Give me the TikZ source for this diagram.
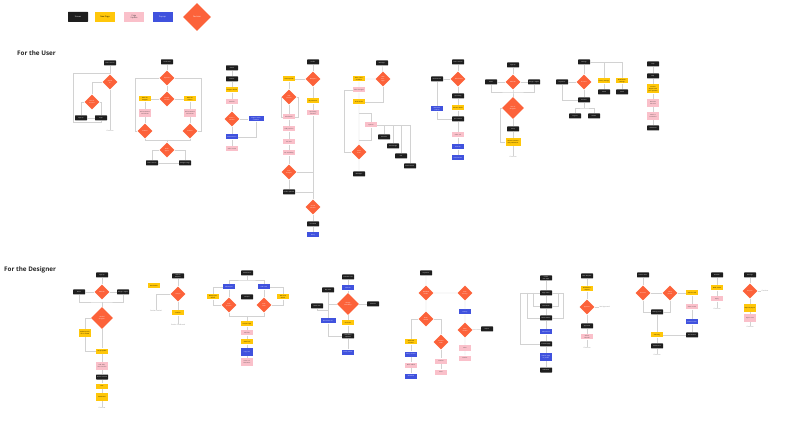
\documentclass[tikz,border=0pt]{standalone}
\usepackage{fontspec}
\setmainfont{Open Sans}
\usetikzlibrary{shapes.geometric}
\definecolor{scrc}{RGB}{30,30,30}
\definecolor{npc}{RGB}{255,199,10}
\definecolor{puc}{RGB}{250,192,202}
\definecolor{popc}{RGB}{64,82,222}
\definecolor{decc}{RGB}{252,98,58}
\definecolor{linec}{RGB}{210,210,210}
\begin{document}
\begin{tikzpicture}[x=1pt,y=-1pt,
 box/.style={rectangle, minimum width=12pt, minimum height=5pt, inner sep=0.4pt, font=\fontsize{1.4}{1.7}\selectfont, align=center, text width=10.5pt},
 scr/.style={box, fill=scrc, text=white, rounded corners=0.5pt},
 np/.style={box, fill=npc, text=black},
 pu/.style={box, fill=puc, text=black!75},
 pop/.style={box, fill=popc, text=white},
 tall/.style={minimum height=8pt},
 wide/.style={minimum width=15pt, text width=13.5pt},
 dec/.style={diamond, fill=decc, text=white, minimum width=15pt, minimum height=15pt, inner sep=0pt, font=\fontsize{1.4}{1.7}\selectfont, align=center, text width=6pt},
 bigdec/.style={dec, minimum width=22pt, minimum height=22pt, text width=9pt},
 txt/.style={font=\fontsize{1.6}{2}\selectfont, text=gray, inner sep=0.3pt},
 conn/.style={draw=linec, line width=0.45pt},
 head/.style={font=\bfseries\fontsize{6.3}{7}\selectfont, text=black!85, inner sep=0pt, anchor=west},
 lg/.style={minimum width=20pt, minimum height=10pt, inner sep=0.5pt, font=\fontsize{2}{2.4}\selectfont}
]
\useasboundingbox (0,0) rectangle (800,435);
\fill[white] (0,0) rectangle (800,435);

% ---------- legend ----------
\node[scr, lg] (lg1) at (78,17) {Screen};
\node[np, lg] (lg2) at (105,17) {New Page};
\node[pu, lg] (lg3) at (134,17) {Page Update};
\node[pop, lg] (lg4) at (162.5,17) {Pop-up};
\node[dec, minimum width=28pt, minimum height=28pt, font=\fontsize{2}{2.4}\selectfont, text width=12pt] (lg5) at (197,17) {Decision};

\node[head] (h1t) at (17,53) {For the User};
\node[head] (h2t) at (4,269.5) {For the Designer};

% ================= USER =================
% flow a
\node[scr] (a1) at (110,63) {Home Screen};
\node[dec] (a2) at (110,82) {Signed in?};
\node[dec] (a3) at (92,102) {Has an account?};
\node[scr] (a4) at (81,118) {Sign Up};
\node[scr] (a5) at (101,118) {Login};
\node[txt] (a6) at (110,131) {Continue};
\coordinate (a7) at (110,73);
\coordinate (a8) at (73,122);
\draw[conn] (a1) -- (a2) (a2.west) -| (a3.north) (a3.west) -| (a4.north) (a3.east) -| (a5.north) (a4) -- (a5) (a2) -- (a6);
\draw[conn] (a7) -| (a8) -| (a5.south);

% flow b
\node[scr] (b1) at (167,62) {Confirmed};
\node[dec] (b2) at (167,78) {Payment?};
\node[dec] (b3) at (167,99) {Review session?};
\node[np] (b4) at (145,99) {Rate the designer};
\node[np] (b5) at (190,99) {Rate the session};
\node[pu, tall] (b6) at (145,113) {Add comments and submit};
\node[pu, tall] (b7) at (190,113) {Add comments and submit};
\node[dec] (b8) at (145,131) {Submit?};
\node[dec] (b9) at (190,131) {Submit?};
\node[dec] (b10) at (167,150) {Book again?};
\node[scr] (b11) at (152,163) {Home Screen};
\node[scr] (b12) at (185,163) {Designer Page};
\coordinate (b13) at (135,78);
\coordinate (b14) at (201,78);
\coordinate (b15) at (167,140);
\draw[conn] (b1) -- (b2) -- (b3) (b3) -- (b4) (b3) -- (b5) (b4) -- (b6) -- (b8) (b5) -- (b7) -- (b9);
\draw[conn] (b2.west) -- (b13) |- (b8.west) (b2.east) -- (b14) |- (b9.east);
\draw[conn] (b8.south) |- (b15) (b9.south) |- (b15) (b15) -- (b10.north);
\draw[conn] (b10.west) -| (b11.north) (b10.east) -| (b12.north) (b11) -- (b12);

% flow c
\node[scr] (c1) at (232,68) {Search};
\node[scr] (c2) at (232,79) {Results};
\node[np] (c3) at (232,90) {Designer Profile};
\node[pu] (c4) at (232,102) {Portfolio};
\node[dec] (c5) at (232,119) {Book a session?};
\node[pop, wide] (c6) at (256,119) {Login to book a session};
\node[pop] (c7) at (232,137) {Book Session};
\node[pu] (c8) at (232,149) {Select a time};
\draw[conn] (c1) -- (c2) -- (c3) -- (c4) -- (c5) -- (c7) -- (c8) (c5) -- (c6) (c6.south) |- (c7.east);

% flow d
\node[scr] (d1) at (313,62) {Profile};
\node[dec] (d2) at (313,79) {Designer?};
\node[np] (d3) at (289,79) {Create profile};
\node[dec] (d4) at (289,97) {Edit profile?};
\node[np] (d5) at (313,101) {My Sessions};
\node[pu] (d6) at (313,113) {Upcoming sessions};
\node[pu] (d7) at (289,117) {Edit details};
\node[pu] (d8) at (289,129) {Add portfolio};
\node[pu] (d9) at (289,142) {Set rates};
\node[pu] (d10) at (289,153) {Set availability};
\node[dec] (d11) at (289,172) {Save changes?};
\node[scr] (d12) at (289,192) {Profile Updated};
\node[dec] (d13) at (313,207) {Cancel session?};
\node[scr] (d14) at (313,224) {Cancelled};
\node[pop] (d15) at (313,235) {Notify};
\coordinate (d16) at (281,97);
\coordinate (d17) at (298,97);
\draw[conn] (d1) -- (d2) -- (d3) -- (d4) -- (d7) -- (d8) -- (d9) -- (d10) -- (d11) -- (d12);
\draw[conn] (d4.west) -- (d16) |- (d7.west) (d4.east) -- (d17) |- (d7.east);
\draw[conn] (d2) -- (d5) -- (d6) -- (d13) -- (d14) -- (d15);
\draw[conn] (d11.east) -- (d11.east -| d6.south) (d12.east) -- (d12.east -| d6.south);

% flow e
\node[scr] (e1) at (382,63) {Messages};
\node[dec] (e2) at (383,79) {New message?};
\node[np] (e3) at (359,79) {Start a conversation};
\node[pu] (e4) at (359,90) {Select designer};
\node[np] (e5) at (359,102) {Chat Screen};
\node[pu] (e6) at (371,125) {Options};
\node[scr] (e7) at (384,137) {Send file};
\node[scr] (e8) at (393,146) {Send image};
\node[scr] (e9) at (401,156) {Call};
\node[scr] (e10) at (410,166) {Book session};
\node[dec] (e11) at (359,152) {Leave chat?};
\node[scr] (e12) at (359,174) {Messages};
\coordinate (e13) at (359,113);
\coordinate (e15) at (344,90);
\coordinate (e16) at (344,152);
\coordinate (e17) at (359,140);
\draw[conn] (e1) -- (e2) -- (e3) -- (e4) -- (e5) -- (e11) -- (e12);
\draw[conn] (e2.south) |- (e5.east) (e13) -| (e6.north);
\draw[conn] (e6.east) -| (e10.north) (e7.north) |- (e6.east) (e8.north) |- (e6.east) (e9.north) |- (e6.east);
\draw[conn] (e4.west) -- (e15) -- (e16) -- (e11.west) (e6.south) |- (e17);

% flow f
\node[scr] (f1) at (458,62) {Home Screen};
\node[dec] (f2) at (458,79) {Notification?};
\node[scr] (f3) at (437,79) {Notifications};
\node[scr] (f4) at (458,96) {Upcoming};
\node[np] (f5) at (458,108) {Session details};
\node[pop] (f6) at (437,109) {Reminder pop-up};
\node[scr] (f7) at (458,119) {Join Session};
\node[pu] (f8) at (458,135) {Video call};
\node[pop] (f9) at (458,147) {End call};
\node[pop] (f10) at (458,158) {Rate session};
\draw[conn] (f1) -- (f2) -- (f4) -- (f5) -- (f7) -- (f8) -- (f9) -- (f10) (f2) -- (f3) -- (f6) (f6.south) |- (f7.west);

% flow g
\node[scr] (g1) at (513,65) {Sign Up};
\node[dec] (g2) at (513,82) {Method?};
\node[scr] (g3) at (491,82) {Email};
\node[scr] (g4) at (534,82) {Google / Apple};
\node[bigdec] (g5) at (513,108) {User or designer?};
\node[scr] (g6) at (513,129) {Setup};
\node[np, tall, wide] (g7) at (513,142) {Choose interests and preferences};
\node[txt] (g8) at (513,157) {Continue};
\coordinate (g9) at (513,92);
\coordinate (g10) at (500,108);
\coordinate (g11) at (500,142);
\draw[conn] (g1) -- (g2) -- (g3) (g2) -- (g4) (g2) -- (g9) -- (g5) -- (g6) -- (g7) -- (g8);
\draw[conn] (g3.south) |- (g9) -| (g4.south);
\draw[conn] (g5.west) -- (g10) -- (g11) -- (g7.west);

% flow h
\node[scr] (h1) at (584,62) {Settings};
\node[dec] (h2) at (584,82) {Account?};
\node[scr] (h3) at (562,82) {Payments};
\node[np] (h4) at (604,81) {Privacy settings};
\node[np] (h5) at (622,81) {Notification settings};
\node[scr] (h6) at (604,92) {Saved};
\node[scr] (h7) at (622,92) {Saved};
\node[scr] (h8) at (584,100) {Account};
\node[scr] (h9) at (575,116) {Log out};
\node[scr] (h10) at (594,116) {Delete};
\coordinate (h11) at (584,108);
\draw[conn] (h1.east) -| (h5.north) (h4.north) |- (h1.east) (h4) -- (h6) (h5) -- (h7);
\draw[conn] (h1) -- (h2) -- (h3) (h2) -- (h8) -- (h11) (h3.south) |- (h8.west);
\draw[conn] (h9.north) |- (h11) -| (h10.north);

% flow i
\node[scr] (i1) at (653,64) {Help};
\node[scr] (i2) at (653,76) {FAQ};
\node[np, minimum height=9pt] (i3) at (653,89) {Contact support with your question};
\node[pu, tall] (i4) at (653,103) {Describe the issue};
\node[pu, tall] (i5) at (653,116) {Attach a screenshot};
\node[scr] (i6) at (653,128) {Submitted};
\draw[conn] (i1) -- (i2) -- (i3) -- (i4) -- (i5) -- (i6);

% ================= DESIGNER =================
% flow j
\node[scr] (j1) at (102,275) {Sign Up};
\node[dec] (j2) at (102,292) {Method?};
\node[scr] (j3) at (79,292) {Email};
\node[scr] (j4) at (123,292) {Google / Apple};
\node[bigdec] (j5) at (102,318) {Verified designer?};
\node[np, tall] (j6) at (85,333) {Upload portfolio for review};
\node[np] (j7) at (102,351) {Set up profile};
\node[pu, tall] (j8) at (102,366) {Add skills, rates and bio};
\node[scr] (j9) at (102,377) {Profile Created};
\node[np] (j10) at (102,386) {Tour};
\node[np, tall] (j11) at (102,397) {Dashboard};
\node[txt] (j12) at (102,408) {Continue};
\coordinate (j13) at (102,302);
\draw[conn] (j1) -- (j2) -- (j3) (j2) -- (j4) (j3.south) |- (j13) -| (j4.south) (j13) -- (j5) -- (j7);
\draw[conn] (j5.west) -| (j6.north) (j6.south) |- (j7.west);
\draw[conn] (j7) -- (j8) -- (j9) -- (j10) -- (j11) -- (j12);

% flow k
\node[scr] (k1) at (178,276) {Session Request};
\node[dec] (k2) at (178,294) {Accept?};
\node[np] (k3) at (154,286) {Reschedule};
\node[txt] (k4) at (156,311) {Session Denied};
\node[np] (k5) at (178,313) {Confirm};
\node[txt] (k6) at (178,325) {Session Confirmed};
\draw[conn] (k1) -- (k2) -- (k5) -- (k6) (k2.west) -| (k4.north);

% flow l
\node[scr] (l1) at (247,273) {Dashboard};
\node[pop] (l2) at (229,287) {Add Project};
\node[pop] (l3) at (264,287) {Edit Card};
\node[np] (l4) at (213,297) {New project details};
\node[np] (l5) at (283,297) {Edit card details};
\node[scr] (l6) at (247,297) {Collapse};
\node[dec] (l7) at (229,305) {Save project?};
\node[dec] (l8) at (264,305) {Save card?};
\node[np] (l9) at (247,324) {Project Page};
\node[pu] (l10) at (247,333) {Add files};
\node[np] (l11) at (247,342) {Share link};
\node[pop, tall] (l12) at (247,352) {Copy link};
\node[pu, tall] (l13) at (247,362) {Invite collaborators};
\coordinate (l14) at (247,280);
\coordinate (l15) at (247,316);
\draw[conn] (l1) -- (l14) (l2.north) |- (l14) -| (l3.north);
\draw[conn] (l2) -- (l7) (l3) -- (l8) (l2.west) -| (l4.north) (l4.south) |- (l7.west) (l3.east) -| (l5.north) (l5.south) |- (l8.east);
\draw[conn] (l7.south) |- (l15) (l8.south) |- (l15) (l15) -- (l9) -- (l10) -- (l11) -- (l12) -- (l13);

% flow m
\node[scr] (m1) at (348,277) {Calendar view};
\node[pop] (m2) at (348,288) {Add slot};
\node[scr] (m3) at (328,290) {Day view};
\node[bigdec] (m4) at (348,304) {Change availability?};
\node[scr] (m5) at (317,306) {Week view};
\node[scr] (m6) at (373,304) {Calendar};
\node[pop, wide] (m7) at (328,321) {Block time off};
\node[np] (m8) at (348,323) {Set hours};
\node[scr] (m9) at (348,336) {Availability updated};
\node[pop] (m10) at (348,352) {Notify clients};
\coordinate (m11) at (328,304);
\coordinate (m12) at (328,310);
\draw[conn] (m1) -- (m2) -- (m4) -- (m8) -- (m9) -- (m10) (m4) -- (m6);
\draw[conn] (m3) -- (m7) (m4.west) -- (m11) (m5.south) |- (m12) (m7.south) |- (m9.west);

% flow n
\node[scr] (n1) at (426,273) {Payments};
\node[dec] (n2) at (426,293) {Withdraw funds?};
\node[dec] (n3) at (465,293) {View history?};
\node[pop] (n4) at (465,312) {History};
\node[dec] (n5) at (465,330) {Filter results?};
\node[scr] (n6) at (487,329) {Export};
\node[pu] (n7) at (465,348) {Filter};
\node[pu] (n8) at (465,358) {Results};
\node[dec] (n9) at (426,319) {Bank linked?};
\node[np] (n10) at (411,342) {Add bank account};
\node[dec] (n11) at (441,342) {Amount valid?};
\node[pop] (n12) at (411,354) {Verify account};
\node[pu] (n13) at (411,365) {Bank added};
\node[pop] (n14) at (411,376) {Withdraw};
\node[pu] (n15) at (441,361) {Confirm};
\node[pu] (n16) at (441,372) {Done};
\draw[conn] (n1) -- (n2) -- (n3) -- (n4) -- (n5) -- (n7) -- (n8) (n5) -- (n6) (n2) -- (n9);
\draw[conn] (n9.west) -| (n10.north) (n9.east) -| (n11.north);
\draw[conn] (n10) -- (n12) -- (n13) -- (n14) (n11) -- (n15) -- (n16);

% flow o
\node[scr] (o1) at (546,278) {Create new page};
\node[scr] (o2) at (546,293) {Page editor};
\node[scr] (o3) at (546,306) {Text blocks};
\node[scr] (o4) at (546,318) {Media blocks};
\node[pop] (o5) at (546,332) {Add a block};
\node[scr] (o6) at (546,344) {Preview page};
\node[pop, tall] (o7) at (546,357) {Publish page to profile};
\node[scr] (o8) at (546,370) {Published};
\coordinate (o9) at (520,293);
\coordinate (o10) at (520,344);
\coordinate (o11) at (527,293);
\coordinate (o12) at (527,318);
\coordinate (o13) at (533,293);
\coordinate (o14) at (533,306);
\coordinate (o15) at (558,293);
\coordinate (o16) at (558,306);
\coordinate (o17) at (563,293);
\coordinate (o18) at (563,318);
\draw[conn] (o1) -- (o2) -- (o3) -- (o4) -- (o5) -- (o6) -- (o7) -- (o8);
\draw[conn] (o2.west) -- (o9) -- (o10) -- (o6.west) (o11) -- (o12) -- (o4.west) (o13) -- (o14) -- (o3.west);
\draw[conn] (o2.east) -- (o17) -- (o18) -- (o4.east) (o15) -- (o16) -- (o3.east);

% flow p
\node[scr] (p1) at (587,276) {New Request};
\node[np] (p2) at (587,289) {Review the request};
\node[dec] (p3) at (587,307) {Approve?};
\node[txt, anchor=west] (p4) at (599,307) {Not Approved};
\node[scr] (p5) at (587,326) {Approved};
\node[pu] (p6) at (587,337) {Add to calendar};
\node[txt] (p7) at (587,348) {Continue};
\draw[conn] (p1) -- (p2) -- (p3) -- (p5) -- (p6) -- (p7) (p3.east) -- (p4.west);

% flow q
\node[scr] (q1) at (643,275) {Session Start};
\node[dec] (q2) at (643,293) {On time?};
\node[dec] (q3) at (670,293) {Client joined?};
\node[scr] (q4) at (657,312) {Waiting room};
\node[np] (q5) at (692,293) {Start the call};
\node[pu] (q6) at (692,307) {Share screen};
\node[pop] (q7) at (692,322) {Session notes};
\node[scr] (q8) at (692,335) {End session};
\node[np] (q9) at (657,335) {Summary};
\node[scr] (q10) at (657,346) {Dashboard};
\node[txt] (q11) at (657,355) {Continue};
\draw[conn] (q1) -- (q2) -- (q3) -- (q5) -- (q6) -- (q7) -- (q8) -- (q9) -- (q10) -- (q11);
\draw[conn] (q2.south) |- (q4.west) (q3.south) |- (q4.east) (q4) -- (q9);

% flow r
\node[scr] (r1) at (717,275) {Reviews};
\node[np] (r2) at (717,288) {Read review};
\node[pu] (r3) at (717,299) {Reply};
\node[txt] (r4) at (717,309) {Continue};
\draw[conn] (r1) -- (r2) -- (r3) -- (r4);

% flow s
\node[scr] (s1) at (750,275) {Earnings};
\node[dec] (s2) at (750,291) {Payout?};
\node[txt, anchor=west] (s3) at (761,291) {Continue};
\node[np, tall] (s4) at (750,308) {Request payout};
\node[pu, tall] (s5) at (750,318) {Payout sent};
\node[txt] (s6) at (750,327) {Continue};
\draw[conn] (s1) -- (s2) -- (s4) -- (s5) -- (s6) (s2.east) -- (s3.west);
\end{tikzpicture}
\end{document}
